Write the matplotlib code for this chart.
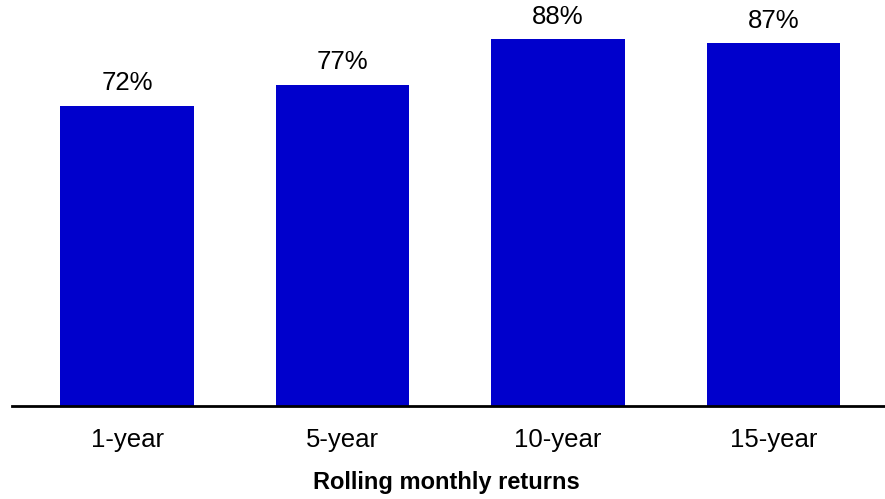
import numpy as np
import matplotlib.pyplot as plt

plt.rcParams['font.family'] = ['Liberation Sans', 'DejaVu Sans']

categories = ['1-year', '5-year', '10-year', '15-year']
values = [72, 77, 88, 87]
labels = ['72%', '77%', '88%', '87%']

fig = plt.figure(figsize=(8.85, 4.99), dpi=100)
ax = fig.add_axes([12 / 885, 93 / 499, 873 / 885, 406 / 499])

x = np.arange(len(categories))
bars = ax.bar(x, values, width=0.62, color='#0000CC')

for b, lab in zip(bars, labels):
    ax.annotate(lab, (b.get_x() + b.get_width() / 2, b.get_height()),
                xytext=(0, 11), textcoords='offset points',
                ha='center', va='baseline', fontsize=18.5)

ax.set_xlim(-0.534, 3.517)
ax.set_ylim(0, 97.3)
ax.set_xticks(x)
ax.set_xticklabels(categories, fontsize=18.5)
ax.tick_params(axis='x', length=0, pad=16)
ax.set_yticks([])
for s in ['top', 'right', 'left']:
    ax.spines[s].set_visible(False)
ax.spines['bottom'].set_linewidth(2)
ax.spines['bottom'].set_color('black')

fig.text(446 / 885, 1 - 483 / 499, 'Rolling monthly returns', ha='center', va='center',
         fontsize=17, fontweight='bold')

fig.savefig('out.png', dpi=100)
